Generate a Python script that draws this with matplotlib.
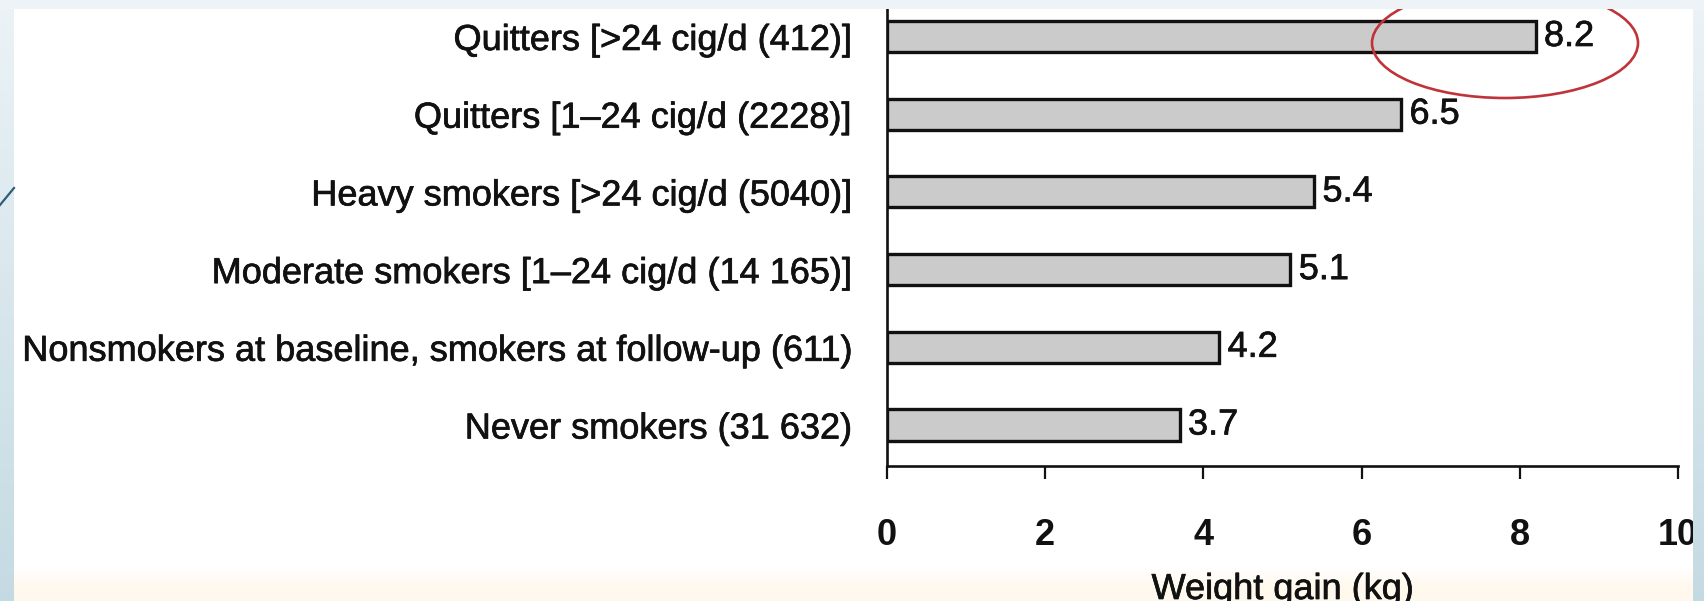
import numpy as np
import matplotlib
matplotlib.use("Agg")
import matplotlib.pyplot as plt
import matplotlib.patheffects as pe
from matplotlib.patches import Ellipse
from matplotlib.lines import Line2D

# ---- data ----
categories = [
    "Never smokers (31 632)",
    "Nonsmokers at baseline, smokers at follow-up (611)",
    "Moderate smokers [1\u201324 cig/d (14 165)]",
    "Heavy smokers [>24 cig/d (5040)]",
    "Quitters [1\u201324 cig/d (2228)]",
    "Quitters [>24 cig/d (412)]",
]
weight_gain = [3.7, 4.2, 5.1, 5.4, 6.5, 8.2]
x_ticks = [0, 2, 4, 6, 8, 10]
x_label = "Weight gain (kg)"

W, H = 1704, 601
plt.rcParams['font.family'] = ['Liberation Sans', 'DejaVu Sans']

fig = plt.figure(figsize=(W / 100, H / 100), dpi=100)
fig.patch.set_facecolor("white")

thick = [pe.withStroke(linewidth=0.5, foreground="#111111")]

# ---- background (white with cream fade at bottom) ----
bg = fig.add_axes([0, 0, 1, 1], zorder=-10)
img = np.ones((H, W, 3))
cream = np.array([1.0, 0.975, 0.93])
rows = np.arange(H)
t = np.clip((rows - 568) / 18.0, 0, 1)[:, None]
img[:] = ((1 - t) * 1.0 + t * cream)[:, None, :]
bg.imshow(img, extent=(0, W, H, 0), aspect='auto', interpolation='bilinear')
bg.set_xlim(0, W)
bg.set_ylim(H, 0)
bg.axis('off')

# ---- main axes ----
x0, x1 = 887, 1678
ax_bottom = 466
spacing = 77.7
top_center = 36.5
n = len(categories)
ytop = (n - 1) + top_center / spacing
ybot = -(ax_bottom - (top_center + (n - 1) * spacing)) / spacing
ax = fig.add_axes([x0 / W, (H - ax_bottom) / H, (x1 - x0) / W, ax_bottom / H])
ax.set_facecolor('none')

ypos = np.arange(n)
bars = ax.barh(ypos, weight_gain, height=0.40, color="#cbcbcb",
               edgecolor="#111111", linewidth=2.4)
vlabels = ax.bar_label(bars, labels=[f"{v}" for v in weight_gain], padding=6,
                       fontsize=26, color="#111111")
for tl in vlabels:
    tl.set_path_effects(thick)

ax.set_xlim(0, 10)
ax.set_ylim(ybot, ytop)
ax.set_yticks(ypos)
ax.set_yticklabels(categories, fontsize=26, color="#111111")
for tl in ax.get_yticklabels():
    tl.set_path_effects(thick)
ax.set_xticks(x_ticks)
ax.set_xticklabels([str(v) for v in x_ticks], fontsize=26, fontweight='bold',
                   color="#111111")
ax.tick_params(axis='y', length=0, pad=25)
ax.tick_params(axis='x', length=9.5, width=1.6, pad=28, color="#111111")
for s in ['top', 'right']:
    ax.spines[s].set_visible(False)
for s in ['left', 'bottom']:
    ax.spines[s].set_linewidth(1.9)
    ax.spines[s].set_color("#111111")

xl = ax.set_xlabel(x_label, fontsize=26, color="#111111")
xl.set_path_effects(thick)
ax.xaxis.set_label_coords(0.5, -(572 - ax_bottom) / ax_bottom)

# red highlight ellipse around top bar value
ell = Ellipse(((1505 - x0) / 79.1, ytop - 43 / spacing), 266 / 79.1, 110 / spacing,
              fill=False, edgecolor="#c0333a", linewidth=1.9, clip_on=False)
ax.add_patch(ell)

# ---- overlay bands (slide frame) ----
ov = fig.add_axes([0, 0, 1, 1], zorder=10)
ov.patch.set_alpha(0)
over = np.zeros((H, W, 4))
topc = np.array([0.925, 0.953, 0.965])
botc = np.array([0.77, 0.855, 0.89])
g = (rows / (H - 1))[:, None]
side = (1 - g) * topc + g * botc
over[:, :14, :3] = side[:, None, :]
over[:, :14, 3] = 1
over[:, 1693:, :3] = side[:, None, :]
over[:, 1693:, 3] = 1
over[:9, :, :3] = np.array([0.93, 0.955, 0.968])
over[:9, :, 3] = 1
ov.imshow(over, extent=(0, W, H, 0), aspect='auto', interpolation='nearest')
ov.add_line(Line2D([0, 14], [205, 188], color="#2e5e78", linewidth=1.6))
ov.set_xlim(0, W)
ov.set_ylim(H, 0)
ov.axis('off')

fig.savefig("out.png", dpi=100)
